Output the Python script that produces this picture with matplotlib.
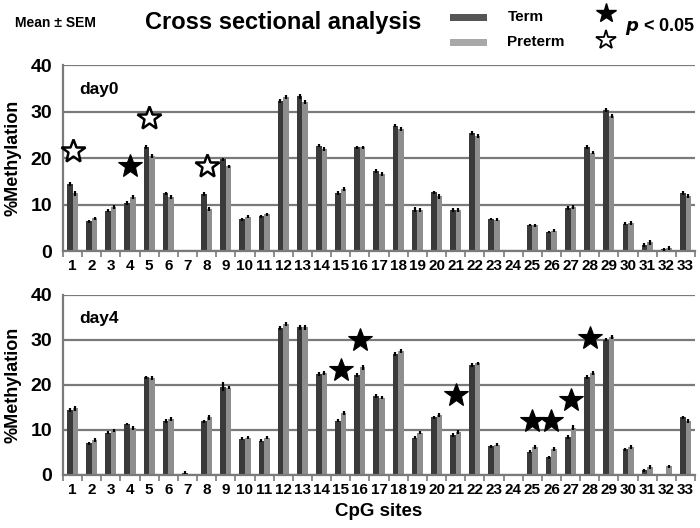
import matplotlib
matplotlib.use("Agg")
import matplotlib.pyplot as plt
from matplotlib.patches import Rectangle
from matplotlib.lines import Line2D
import numpy as np

plt.rcParams["font.family"] = ["Liberation Sans", "DejaVu Sans"]
plt.rcParams["font.weight"] = "bold"
plt.rcParams["axes.labelweight"] = "bold"

sites = [str(i) for i in range(1, 34)]

# day0 means (% methylation)
day0_term = [14.4, 6.4, 8.7, 10.4, 22.4, 12.4, 0.0, 12.2, 19.7, 6.8, 7.5,
             32.3, 33.3, 22.7, 12.5, 22.3, 17.2, 27.0, 8.9, 12.6, 8.8, 25.4,
             6.9, 0.0, 5.6, 4.1, 9.2, 22.4, 30.3, 5.9, 1.3, 0.4, 12.5]
day0_preterm = [12.4, 7.0, 9.5, 11.7, 20.4, 11.7, 0.0, 9.0, 18.2, 7.4, 7.9,
                33.1, 32.0, 22.0, 13.4, 22.3, 16.5, 26.3, 8.8, 11.8, 8.8, 24.7,
                6.7, 0.0, 5.5, 4.4, 9.4, 21.2, 29.0, 6.1, 1.9, 0.7, 11.8]
day0_term_sem = [0.5, 0.3, 0.4, 0.4, 0.4, 0.4, 0.0, 0.4, 0.4, 0.3, 0.3,
                 0.4, 0.5, 0.4, 0.4, 0.4, 0.4, 0.4, 0.5, 0.4, 0.4, 0.4,
                 0.3, 0.0, 0.3, 0.3, 0.4, 0.4, 0.4, 0.3, 0.4, 0.3, 0.4]
day0_preterm_sem = [0.5, 0.3, 0.4, 0.4, 0.4, 0.4, 0.0, 0.4, 0.4, 0.3, 0.3,
                    0.4, 0.4, 0.4, 0.4, 0.4, 0.4, 0.4, 0.5, 0.5, 0.4, 0.4,
                    0.3, 0.0, 0.3, 0.4, 0.4, 0.4, 0.4, 0.4, 0.5, 0.4, 0.4]

# day4 means (% methylation)
day4_term = [14.4, 7.0, 9.4, 11.3, 21.7, 12.0, 0.5, 11.9, 19.6, 8.1, 7.6,
             32.6, 32.8, 22.4, 12.1, 22.2, 17.6, 26.9, 8.3, 12.8, 8.9, 24.4,
             6.4, 0.0, 5.2, 3.9, 8.5, 21.8, 30.1, 5.7, 1.0, 0.0, 12.8]
day4_preterm = [14.8, 7.8, 9.9, 10.4, 21.5, 12.4, 0.0, 12.8, 19.4, 8.3, 8.3,
                33.5, 32.8, 22.6, 13.8, 23.9, 17.2, 27.6, 9.4, 13.3, 9.6, 24.8,
                6.7, 0.0, 6.2, 5.8, 10.5, 22.6, 30.6, 6.2, 1.8, 1.9, 12.0]
day4_term_sem = [0.4, 0.3, 0.4, 0.3, 0.4, 0.4, 0.3, 0.4, 1.0, 0.3, 0.3,
                 0.4, 0.5, 0.4, 0.4, 0.4, 0.4, 0.4, 0.4, 0.4, 0.4, 0.4,
                 0.3, 0.0, 0.3, 0.4, 0.4, 0.4, 0.4, 0.3, 0.4, 0.0, 0.4]
day4_preterm_sem = [0.5, 0.4, 0.4, 0.4, 0.4, 0.4, 0.0, 0.5, 0.4, 0.3, 0.4,
                    0.4, 0.5, 0.4, 0.4, 0.5, 0.4, 0.4, 0.4, 0.4, 0.4, 0.4,
                    0.3, 0.0, 0.4, 0.5, 0.5, 0.4, 0.4, 0.4, 0.4, 0.4, 0.4]

# significance stars: (site number, y position, filled?)
day0_stars = [(1, 21.5, False), (4, 18.2, True), (5, 28.7, False), (8, 18.2, False)]
day4_stars = [(15, 23.3, True), (16, 30.0, True), (21, 17.8, True), (25, 12.0, True),
              (26, 12.0, True), (27, 16.7, True), (28, 30.4, True)]

TERM_COLOR = "#3a3a3a"
PRETERM_COLOR = "#8e8e8e"
GRID_COLOR = "#7a7a7a"

fig = plt.figure(figsize=(7.0, 5.28), dpi=100)
fig.patch.set_facecolor("white")

ax_top = fig.add_axes([0.090, 0.5246, 0.903, 0.352])
ax_bot = fig.add_axes([0.090, 0.1004, 0.903, 0.341])


def draw_panel(ax, term, pre, term_sem, pre_sem, stars, label):
    x = np.arange(len(sites))
    w = 0.29
    ax.set_axisbelow(True)
    ax.grid(axis="y", color=GRID_COLOR, linewidth=1.6)
    ax.bar(x - w / 2, term, width=w, color=TERM_COLOR, zorder=2)
    ax.bar(x + w / 2, pre, width=w, color=PRETERM_COLOR, zorder=2)
    ax.errorbar(x - w / 2, term, yerr=term_sem, fmt="none", ecolor="black",
                elinewidth=1.6, capsize=0, zorder=3)
    ax.errorbar(x + w / 2, pre, yerr=pre_sem, fmt="none", ecolor="black",
                elinewidth=1.6, capsize=0, zorder=3)
    for site, yv, filled in stars:
        ax.plot(site - 1, yv, marker="*", markersize=18,
                markerfacecolor="black" if filled else "white",
                markeredgecolor="black", markeredgewidth=0.8 if filled else 1.8,
                linestyle="none", zorder=4, clip_on=False)
    ax.set_xlim(-0.5, len(sites) - 0.5)
    ax.set_ylim(0, 40)
    ax.set_yticks([0, 10, 20, 30, 40])
    ax.tick_params(axis="y", length=0, labelsize=14, pad=8)
    ax.set_xticks(x)
    ax.set_xticklabels(sites, fontsize=11, fontweight="bold")
    ax.tick_params(axis="x", which="major", length=0, pad=6)
    ax.set_xticks(np.arange(-0.5, len(sites), 1.0), minor=True)
    ax.tick_params(axis="x", which="minor", length=4, color=GRID_COLOR, width=1.2)
    for lab in ax.get_yticklabels():
        lab.set_fontweight("bold")
    ax.spines[["top", "right"]].set_visible(False)
    ax.spines["left"].set_color(GRID_COLOR)
    ax.spines["left"].set_linewidth(1.6)
    ax.spines["bottom"].set_color(GRID_COLOR)
    ax.spines["bottom"].set_linewidth(1.6)
    ax.set_ylabel("%Methylation", fontsize=13, fontweight="bold", labelpad=6)
    ax.text(0.025, 0.87, label, transform=ax.transAxes, fontsize=12.5,
            fontweight="bold", va="center", ha="left")


draw_panel(ax_top, day0_term, day0_preterm, day0_term_sem, day0_preterm_sem,
           day0_stars, "day0")
draw_panel(ax_bot, day4_term, day4_preterm, day4_term_sem, day4_preterm_sem,
           day4_stars, "day4")
ax_bot.set_xlabel("CpG sites", fontsize=13.5, fontweight="bold", labelpad=4)

# header
fig.text(0.022, 0.957, "Mean \u00b1 SEM", fontsize=10, fontweight="bold",
         va="center", ha="left")
fig.text(0.207, 0.957, "Cross sectional analysis", fontsize=17,
         fontweight="bold", va="center", ha="left")

# legend swatches
fig.add_artist(Rectangle((0.643, 0.960), 0.053, 0.014, transform=fig.transFigure,
                         facecolor="#555555", edgecolor="none"))
fig.add_artist(Rectangle((0.643, 0.913), 0.053, 0.014, transform=fig.transFigure,
                         facecolor="#a8a8a8", edgecolor="none"))
fig.text(0.725, 0.967, "Term", fontsize=11, fontweight="bold", va="center")
fig.text(0.725, 0.920, "Preterm", fontsize=11, fontweight="bold", va="center")

fig.add_artist(Line2D([0.866], [0.976], transform=fig.transFigure, marker="*",
                      markersize=15, markerfacecolor="black",
                      markeredgecolor="black", linestyle="none"))
fig.add_artist(Line2D([0.866], [0.925], transform=fig.transFigure, marker="*",
                      markersize=15, markerfacecolor="white",
                      markeredgecolor="black", markeredgewidth=1.3,
                      linestyle="none"))
fig.text(0.893, 0.950, r"$\bf{\it{p}}$ < 0.05", fontsize=13, fontweight="bold",
         va="center", ha="left")

fig.savefig("out.png", dpi=100)
